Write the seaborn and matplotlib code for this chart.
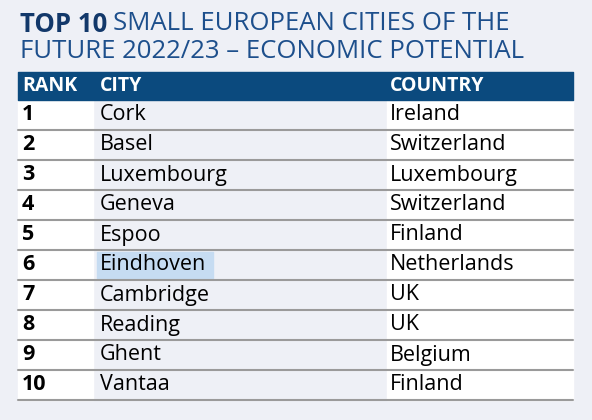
import matplotlib
matplotlib.use("Agg")
import matplotlib.pyplot as plt
import seaborn as sns

ranks = ["1", "2", "3", "4", "5", "6", "7", "8", "9", "10"]
cities = ["Cork", "Basel", "Luxembourg", "Geneva", "Espoo", "Eindhoven",
          "Cambridge", "Reading", "Ghent", "Vantaa"]
countries = ["Ireland", "Switzerland", "Luxembourg", "Switzerland", "Finland",
             "Netherlands", "UK", "UK", "Belgium", "Finland"]
headers = ["RANK", "CITY", "COUNTRY"]

navy = "#12386a"
blue = "#1d4f8c"
header_c = "#0b4a7e"
bg = "#eef0f6"
line_c = "#9a9a9a"

sns.set_style("white")
plt.rcParams['font.family'] = ['Open Sans', 'DejaVu Sans']

fig = plt.figure(figsize=(5.92, 4.2), dpi=100, facecolor=bg)
ax = fig.add_axes([0, 0, 1, 1])
ax.set_facecolor(bg)
ax.set_xlim(0, 592)
ax.set_ylim(420, 0)
ax.axis("off")

# title: bold part, then measure it and put the rest after
t1 = ax.text(20, 24, "TOP 10", fontsize=18.5, fontweight="bold", color=navy, va="center")
fig.canvas.draw()
bb = t1.get_window_extent().transformed(ax.transData.inverted())
ax.text(bb.x1 + 6, 24, "SMALL EUROPEAN CITIES OF THE", fontsize=18.5, color=blue, va="center")
ax.text(20, 51, "FUTURE 2022/23 – ECONOMIC POTENTIAL", fontsize=18.5, color=blue, va="center")

row_h = 30
y0 = 100
y_end = y0 + row_h * len(ranks)

# white columns (rank, country); city column stays background grey
ax.fill_between([18, 93], y0, y_end, color="white")
ax.fill_between([387, 573], y0, y_end, color="white")

# header bar
ax.fill_between([18, 573], 72, y0, color=header_c)
col_x = [22, 100, 390]
for x, h in zip(col_x, headers):
    ax.text(x, 86, h, fontsize=14, fontweight="bold", color="white", va="center")

for i, (r, c, k) in enumerate(zip(ranks, cities, countries)):
    yc = y0 + row_h * (i + 0.5)
    if c == "Eindhoven":
        ax.fill_between([97, 213], yc - 13, yc + 13, color="#c6dcf2")
    ax.text(col_x[0], yc, r, fontsize=15.5, fontweight="bold", color="black", va="center")
    ax.text(col_x[1], yc, c, fontsize=15.5, color="black", va="center")
    ax.text(col_x[2], yc, k, fontsize=15.5, color="black", va="center")
    ax.plot([18, 573], [y0 + row_h * (i + 1)] * 2, color=line_c, lw=1.5)

fig.savefig("out.png", dpi=100, facecolor=bg)
